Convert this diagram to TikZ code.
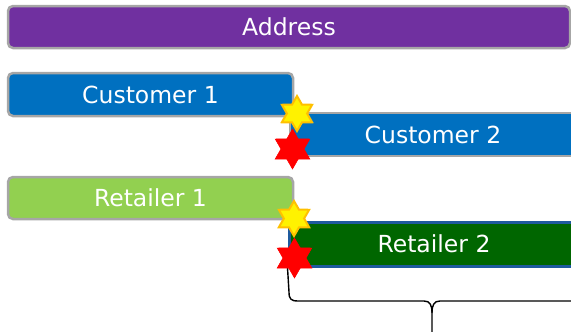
\documentclass[tikz,border=0pt]{standalone}
\usepackage{fontspec}
\setmainfont{DejaVu Sans}
\usetikzlibrary{shapes.geometric}
\definecolor{addrpurple}{HTML}{7030A0}
\definecolor{custblue}{HTML}{0070C0}
\definecolor{retlight}{HTML}{92D050}
\definecolor{retdark}{HTML}{006600}
\definecolor{retedge}{HTML}{1F5A9E}
\definecolor{edgegray}{HTML}{A6A6A6}
\definecolor{staredge}{HTML}{FFC000}
\tikzset{
  bar/.style={draw=edgegray, line width=2.5pt, rounded corners=5pt, inner sep=0pt,
    text=white, font=\fontsize{23.5}{28}\selectfont},
  flatbar/.style={bar, rounded corners=0pt},
  hexstar/.style={star, star points=6, star point ratio=1.73, inner sep=0pt,
    minimum size=#1},
  goldstar/.style={hexstar=35pt, fill=yellow, draw=staredge, line width=2pt},
  redstar/.style={hexstar=40pt, fill=red, draw=red, line width=0.5pt},
}
\begin{document}
\begin{tikzpicture}[x=1pt, y=-1pt]
\useasboundingbox (0,0) rectangle (571,332);
\clip (0,0) rectangle (571,332);

% bars
\node[bar, fill=addrpurple, minimum width=562pt, minimum height=42pt] (addr) at (289,27) {Address};
\node[bar, fill=custblue, minimum width=285pt, minimum height=43pt] (c1) at (150.5,94.5) {Customer 1};
\node[flatbar, fill=custblue, minimum width=286pt, minimum height=43pt] (c2) at (433,134.5) {Customer 2};
\node[bar, fill=retlight, minimum width=285pt, minimum height=42pt] (r1) at (150.5,198) {Retailer 1};
\node[flatbar, fill=retdark, draw=retedge, line width=3pt, minimum width=290pt, minimum height=44pt] (r2) at (434,244) {Retailer 2};

% brace under the second retailer bar
\coordinate (tip) at (432,340);
\coordinate (rend) at (580,301);
\draw[line width=1.4pt] (r2.south west) -- (289,292) .. controls (289,299) and (291,301) .. (298,301)
  -- (424,301) .. controls (430,301) and (432,305) .. (432,313) -- (tip);
\draw[line width=1.4pt] (432,313) .. controls (432,305) and (434,301) .. (440,301) -- (rend);

% markers
\node[redstar] (s2) at (292.5,149) {};
\node[goldstar] (s1) at (297,113.5) {};
\node[redstar] (s4) at (294.5,258) {};
\node[goldstar] (s3) at (294,218.5) {};
\end{tikzpicture}
\end{document}
